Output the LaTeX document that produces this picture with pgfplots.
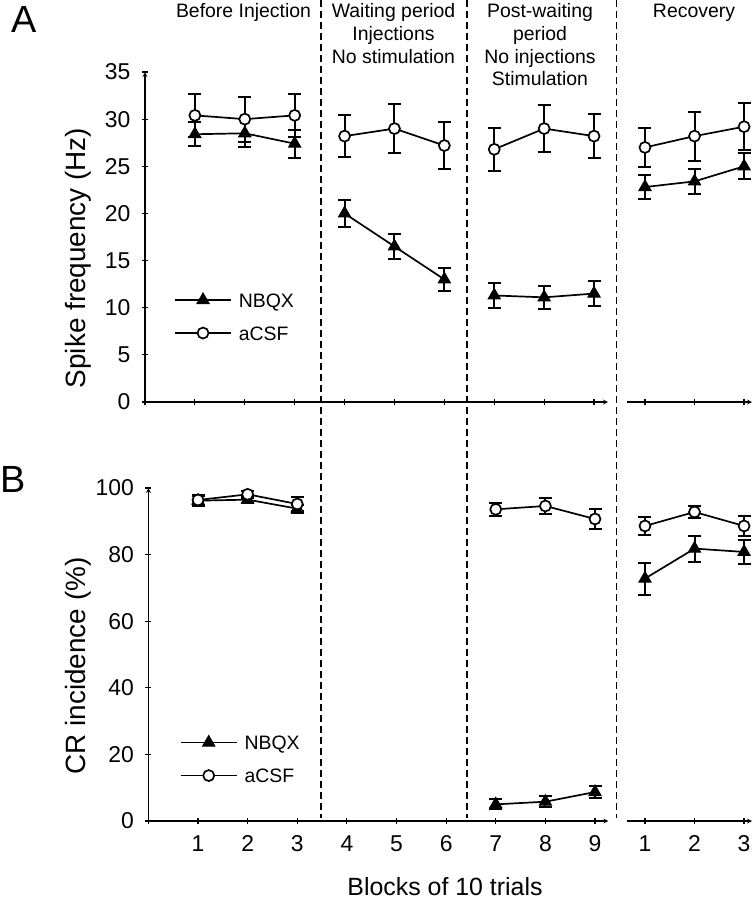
\documentclass[border=0pt]{standalone}
\usepackage{pgfplots}
\pgfplotsset{compat=1.18}
\usepackage{fontspec}
\setmainfont{Liberation Sans}

\newcommand{\legfont}{\fontsize{19.5}{20}\selectfont}

\pgfplotsset{
  every axis/.append style={
    scale only axis, clip=false,
    axis line style={line width=1.2bp,-},
    tick style={line width=1.2bp, black},
    major tick length=6bp, tick align=outside,
    /pgf/number format/assume math mode=true,
    ticklabel style={font=\fontsize{23}{25}\selectfont},
    yticklabel style={xshift=-8bp},
    xticklabel style={yshift=-8bp},
    axis x line=bottom,
  },
  leg/.style={
    legend style={draw=none, fill=none, inner sep=0pt, row sep=19bp,
      at={#1}, anchor=west,
      nodes={inner sep=0pt, text height=14bp, text depth=0bp}},
    legend cell align=left,
    legend image code/.code={\draw[##1, mark repeat=2, mark phase=2] plot coordinates {(0bp,0bp) (28bp,0bp) (56bp,0bp)}; \path (63bp,0bp);},
  },
  eb/.style={
    /pgfplots/error bars/.cd, y dir=both, y explicit,
    error bar style={line width=2bp, solid, black},
    error mark=-,
    error mark options={rotate=90, line width=2bp, mark size=6.5bp, solid, black},
    /pgfplots/.cd},
  nb/.style={black, line width=1.7bp, mark=triangle*, mark size=7bp,
    mark options={solid, fill=black, line width=1pt}, eb},
  ac/.style={black, line width=1.7bp, mark=*, mark size=5.5bp,
    mark options={solid, fill=white, line width=1.7bp}, eb},
}

\begin{document}
\begin{tikzpicture}
\path[use as bounding box, clip] (0,0) rectangle (753bp,-899bp);

% ---------- Panel A main ----------
\begin{axis}[at={(145bp,-402bp)}, anchor=south west,
  width=463bp, height=330bp,
  xmin=0, xmax=9.28, ymin=0, ymax=35,
  axis y line=left,
  xtick={0,...,9}, xticklabels={,,,,,,,,,},
  ytick={0,5,...,35},
  leg={(axis description cs:0.0626,0.259)}]
\addplot[nb] table[y error=e] {
x y e
1 28.4 1.3
2 28.5 1.5
3 27.4 1.5
};
\addlegendentry{\legfont NBQX}
\addplot[ac] table[y error=e] {
x y e
1 30.4 2.3
2 30.0 2.4
3 30.4 2.3
};
\addlegendentry{\legfont aCSF}
\addplot[forget plot, nb] table[y error=e] {
x y e
4 20.0 1.45
5 16.5 1.3
6 13.0 1.25
};
\addplot[forget plot, ac] table[y error=e] {
x y e
4 28.2 2.2
5 29.0 2.6
6 27.2 2.5
};
\addplot[forget plot, nb] table[y error=e] {
x y e
7 11.3 1.3
8 11.1 1.2
9 11.5 1.3
};
\addplot[forget plot, ac] table[y error=e] {
x y e
7 26.8 2.25
8 29.0 2.5
9 28.2 2.3
};
\end{axis}

% ---------- Panel A recovery ----------
\begin{axis}[at={(627bp,-402bp)}, anchor=south west,
  width=125bp, height=330bp,
  xmin=0.637, xmax=3.16, ymin=0, ymax=35,
  axis y line=none,
  xtick={1,2,3}, xticklabels={,,}]
\addplot[nb] table[y error=e] {
x y e
1 22.8 1.3
2 23.4 1.3
3 25.0 1.4
};
\addplot[ac] table[y error=e] {
x y e
1 27.0 2.1
2 28.2 2.6
3 29.2 2.5
};
\end{axis}

% ---------- Panel B main ----------
\begin{axis}[at={(148.4bp,-821bp)}, anchor=south west,
  width=460bp, height=333bp,
  xmin=0, xmax=9.27, ymin=0, ymax=100,
  axis y line=left,
  xtick={0,...,9}, xticklabels={,1,2,3,4,5,6,7,8,9},
  ytick={0,20,...,100},
  leg={(axis description cs:0.068,0.186)}]
\addplot[nb] table[y error=e] {
x y e
1 96.2 1.5
2 96.5 1.0
3 93.8 1.2
};
\addlegendentry{\legfont NBQX}
\addplot[ac] table[y error=e] {
x y e
1 96.4 1.5
2 98.1 1.0
3 95.2 2.0
};
\addlegendentry{\legfont aCSF}
\addplot[forget plot, nb] table[y error=e] {
x y e
7 5.0 1.5
8 5.8 1.7
9 8.7 1.8
};
\addplot[forget plot, ac] table[y error=e] {
x y e
7 93.6 2.0
8 94.6 2.4
9 90.7 2.9
};
\end{axis}

% ---------- Panel B recovery ----------
\begin{axis}[at={(627bp,-821bp)}, anchor=south west,
  width=125bp, height=333bp,
  xmin=0.637, xmax=3.16, ymin=0, ymax=100,
  axis y line=none,
  xtick={1,2,3}]
\addplot[nb] table[y error=e] {
x y e
1 72.8 4.8
2 81.8 3.9
3 80.8 3.5
};
\addplot[ac] table[y error=e] {
x y e
1 88.6 2.8
2 92.8 1.9
3 88.6 3.0
};
\end{axis}

% dashed separators
\foreach \xx in {321,467,616.5}
  \draw[line width=1.5bp, dash pattern=on 7bp off 4bp] (\xx bp,0bp) -- (\xx bp,-818bp);

% headers
\begin{scope}[every node/.style={font=\fontsize{19.5}{22}\selectfont, inner sep=0pt, anchor=base}]
\node at (243.5bp,-17bp) {Before Injection};
\node at (393.5bp,-17bp) {Waiting period};
\node at (393.5bp,-40bp) {Injections};
\node at (393.5bp,-63bp) {No stimulation};
\node at (540bp,-17bp) {Post-waiting};
\node at (540bp,-40bp) {period};
\node at (540bp,-63bp) {No injections};
\node at (540bp,-85bp) {Stimulation};
\node at (694bp,-17bp) {Recovery};
\end{scope}

% panel letters
\node[font=\fontsize{38}{38}\selectfont, inner sep=0pt, anchor=base west] at (11bp,-32bp) {A};
\node[font=\fontsize{38}{38}\selectfont, inner sep=0pt, anchor=base west] at (0bp,-492bp) {B};

% axis labels
\node[font=\fontsize{28}{30}\selectfont, rotate=90, inner sep=0pt] at (78bp,-258bp) {Spike frequency (Hz)};
\node[font=\fontsize{28}{30}\selectfont, rotate=90, inner sep=0pt] at (78bp,-666bp) {CR incidence (\%)};
\node[font=\fontsize{25}{27}\selectfont, inner sep=0pt, anchor=base] at (445bp,-895bp) {Blocks of 10 trials};
\end{tikzpicture}
\end{document}
